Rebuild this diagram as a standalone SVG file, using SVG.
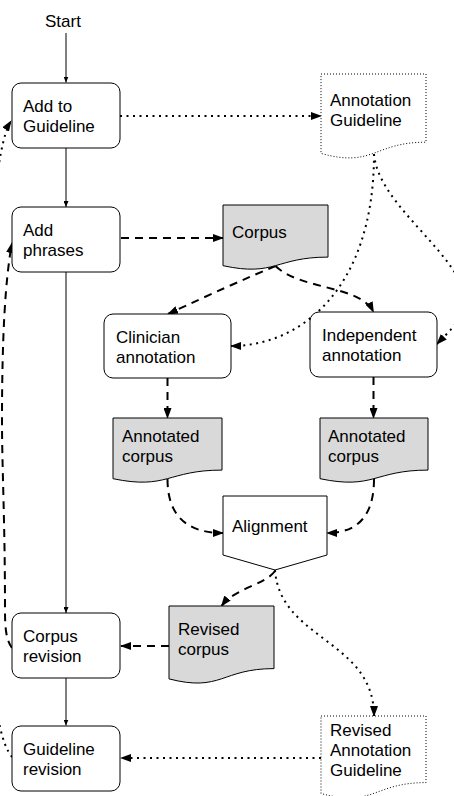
<svg xmlns="http://www.w3.org/2000/svg" width="454" height="796" viewBox="0 0 454 796">
<style>
text{font-family:"Liberation Sans",Arial,sans-serif;font-size:17px;fill:#000}
.box{fill:#fff;stroke:#000;stroke-width:1}
.doc{fill:#d9d9d9;stroke:#000;stroke-width:1}
.ddoc{fill:#fff;stroke:#000;stroke-width:1;stroke-dasharray:1 2}
.solid{fill:none;stroke:#000;stroke-width:1;marker-end:url(#sm)}
.dash{fill:none;stroke:#000;stroke-width:2;stroke-dasharray:8 6;marker-end:url(#bg)}
.dot{fill:none;stroke:#000;stroke-width:2;stroke-dasharray:2 4.5;marker-end:url(#bg)}
</style>
<defs>
<marker id="bg" markerUnits="userSpaceOnUse" markerWidth="11" markerHeight="8" viewBox="0 0 11 8" refX="10" refY="4" orient="auto"><path d="M0,0 L11,4 L0,8 Z" fill="#000"/></marker>
<marker id="sm" markerUnits="userSpaceOnUse" markerWidth="6" markerHeight="5" viewBox="0 0 6 5" refX="6" refY="2.5" orient="auto"><path d="M0,0 L6,2.5 L0,5 Z" fill="#000"/></marker>
</defs>
<g id="connectors">
<path class="solid" d="M66,33 V82.5"/>
<path class="solid" d="M66,148 V207"/>
<path class="solid" d="M66,272 V613"/>
<path class="solid" d="M66,678 V725.5"/>
<path class="dot" d="M120,116 H321"/>
<path class="dash" d="M121,238 H223"/>
<path class="dash" d="M275.5,266 Q230,285 168,314"/>
<path class="dash" d="M275.5,266 C300,290 360,285 373.5,312"/>
<path class="dot" d="M374,154 C374,290 300,346 231,346"/>
<path class="dot" d="M374,154 C378,200 440,240 462,285 C475,310 450,330 437,344"/>
<path class="dash" d="M167.5,378 V418"/>
<path class="dash" d="M373.5,377 V418"/>
<path class="dash" d="M167.5,479 Q167.5,533 223,533"/>
<path class="dash" d="M374,479 Q374,533 327,533"/>
<path class="dash" d="M275,571 C265,585 235,588 221.5,606"/>
<path class="dot" d="M275,570 C280,640 374,640 374,716"/>
<path class="dash" d="M169,646 H121"/>
<path class="dot" d="M321,758 H121"/>
<path class="dot" d="M12,757 C2,745 -4,715 -6,680 L-6,200 C-2,170 2,135 11,121"/>
<path class="dash" d="M12,648 C6,640 5,628 5,610 C5,520 2,470 2,420 C2,340 5,280 12,243"/>
</g>
<g id="start"><text x="45" y="27">Start</text></g>
<g id="add-to-guideline"><rect class="box" x="12" y="83" width="108" height="65" rx="9"/><text x="23" y="112">Add to</text><text x="23" y="132">Guideline</text></g>
<g id="annotation-guideline"><path class="ddoc" d="M321,74 H426 V142.2 C373.5,142.2 373.5,168.1 321,153.4 Z"/><text x="330" y="105.5">Annotation</text><text x="330" y="125.5">Guideline</text></g>
<g id="add-phrases"><rect class="box" x="12" y="207" width="108" height="65" rx="9"/><text x="23" y="236">Add</text><text x="23" y="256">phrases</text></g>
<g id="corpus"><path class="doc" d="M223,205 H328 V257.1 C275.5,257.1 275.5,277 223,265.7 Z"/><text x="232" y="238">Corpus</text></g>
<g id="clinician-annotation"><rect class="box" x="104" y="314" width="127" height="64" rx="9"/><text x="116" y="343">Clinician</text><text x="116" y="363">annotation</text></g>
<g id="independent-annotation"><rect class="box" x="310" y="312" width="127" height="65" rx="9"/><text x="322" y="341">Independent</text><text x="322" y="361">annotation</text></g>
<g id="annotated-corpus-1"><path class="doc" d="M113,418 H222 V470.1 C167.5,470.1 167.5,490 113,478.7 Z"/><text x="122" y="442">Annotated</text><text x="122" y="461.5">corpus</text></g>
<g id="annotated-corpus-2"><path class="doc" d="M320,418 H428 V470.1 C374,470.1 374,490 320,478.7 Z"/><text x="328" y="442">Annotated</text><text x="328" y="461.5">corpus</text></g>
<g id="alignment"><path class="box" d="M223,496 H327 V555 L275,570 L223,555 Z"/><text x="232" y="532">Alignment</text></g>
<g id="revised-corpus"><path class="doc" d="M169,606 H274 V668.6 C221.5,668.6 221.5,692.4 169,678.9 Z"/><text x="178" y="635">Revised</text><text x="178" y="655">corpus</text></g>
<g id="corpus-revision"><rect class="box" x="12" y="613" width="108" height="65" rx="9"/><text x="23" y="642">Corpus</text><text x="23" y="662">revision</text></g>
<g id="guideline-revision"><rect class="box" x="12" y="726" width="108" height="65" rx="9"/><text x="23" y="755">Guideline</text><text x="23" y="775">revision</text></g>
<g id="revised-annotation-guideline"><path class="ddoc" d="M321,716 H426 V782.6 C373.5,782.6 373.5,807.9 321,793.5 Z"/><text x="330" y="736">Revised</text><text x="330" y="756">Annotation</text><text x="330" y="776">Guideline</text></g>
</svg>
